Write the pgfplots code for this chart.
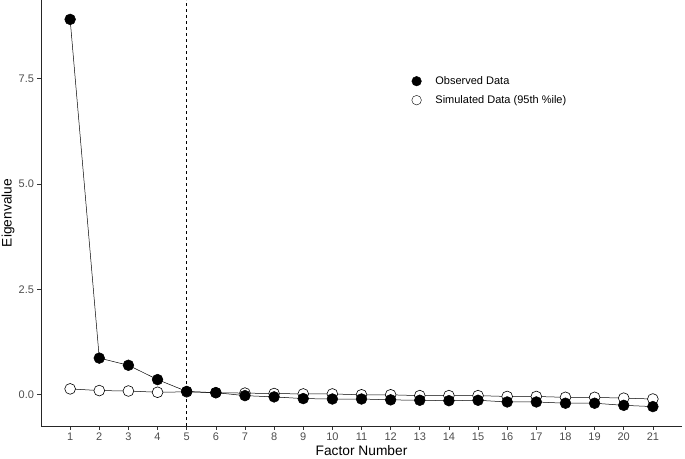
\documentclass[border=0pt]{standalone}
\usepackage{pgfplots}
\pgfplotsset{compat=1.18}
\usepackage{fontspec}
\setmainfont{Liberation Sans}
\definecolor{ticklab}{HTML}{4D4D4D}
\definecolor{tickcol}{HTML}{333333}
\begin{document}
\begin{tikzpicture}
\useasboundingbox (0,0) rectangle (685pt,458pt);
\begin{axis}[
  at={(41pt,32pt)}, anchor=south west,
  scale only axis, width=641pt, height=426pt,
  xmin=0, xmax=22, ymin=-0.74, ymax=9.36,
  axis x line*=bottom, axis y line*=left,
  axis line style={black!85, line width=0.7pt, -},
  tick align=outside, major tick length=3.5pt,
  tick style={tickcol, line width=0.6pt},
  xtick={1,...,21},
  ytick={0,2.5,5,7.5},
  yticklabels={0.0,2.5,5.0,7.5},
  /pgf/number format/assume math mode=true,
  ticklabel style={font=\fontsize{11}{13}\selectfont, text=ticklab},
  xticklabel style={anchor=north, yshift=0pt},
  yticklabel style={anchor=east, xshift=0pt},
  xlabel={Factor Number}, ylabel={Eigenvalue},
  label style={font=\fontsize{13.75}{16}\selectfont},
  xlabel style={at={(axis description cs:0.5,-0.0587)}, anchor=center},
  ylabel style={at={(axis description cs:-0.0515,0.5)}, anchor=center},
  clip=false,
  legend style={draw=none, fill=none, at={(axis cs:12.72,7.21)}, anchor=west,
    font=\fontsize{11}{13}\selectfont, row sep=5.5pt, inner sep=0pt,
    /tikz/every odd column/.append style={column sep=12pt}},
  legend cell align=left,
]
\addlegendimage{only marks, mark=*, mark size=4.8pt, black, mark options={fill=black}}
\addlegendentry{Observed Data}
\addlegendimage{only marks, mark=*, mark size=4.8pt, black, mark options={fill=white}}
\addlegendentry{Simulated Data (95th \%ile)}
\addplot[forget plot, black, dashed, line width=0.6pt] coordinates {(5,-0.74) (5,9.36)};
\addplot[forget plot, black, line width=0.5pt, mark=*, mark size=5.4pt, mark options={fill=white, line width=0.6pt}] coordinates {
(1,0.14) (2,0.10) (3,0.09) (4,0.06) (5,0.07) (6,0.05) (7,0.04) (8,0.03) (9,0.02) (10,0.02)
(11,0.00) (12,0.00) (13,-0.02) (14,-0.02) (15,-0.02) (16,-0.04) (17,-0.04) (18,-0.06) (19,-0.06) (20,-0.08) (21,-0.10)};
\addplot[forget plot, black, line width=0.5pt, mark=*, mark size=5.4pt, mark options={fill=black}] coordinates {
(1,8.90) (2,0.87) (3,0.70) (4,0.36) (5,0.08) (6,0.05) (7,-0.02) (8,-0.05) (9,-0.09) (10,-0.10)
(11,-0.10) (12,-0.12) (13,-0.13) (14,-0.14) (15,-0.13) (16,-0.17) (17,-0.17) (18,-0.20) (19,-0.20) (20,-0.25) (21,-0.28)};
\end{axis}
\end{tikzpicture}
\end{document}
